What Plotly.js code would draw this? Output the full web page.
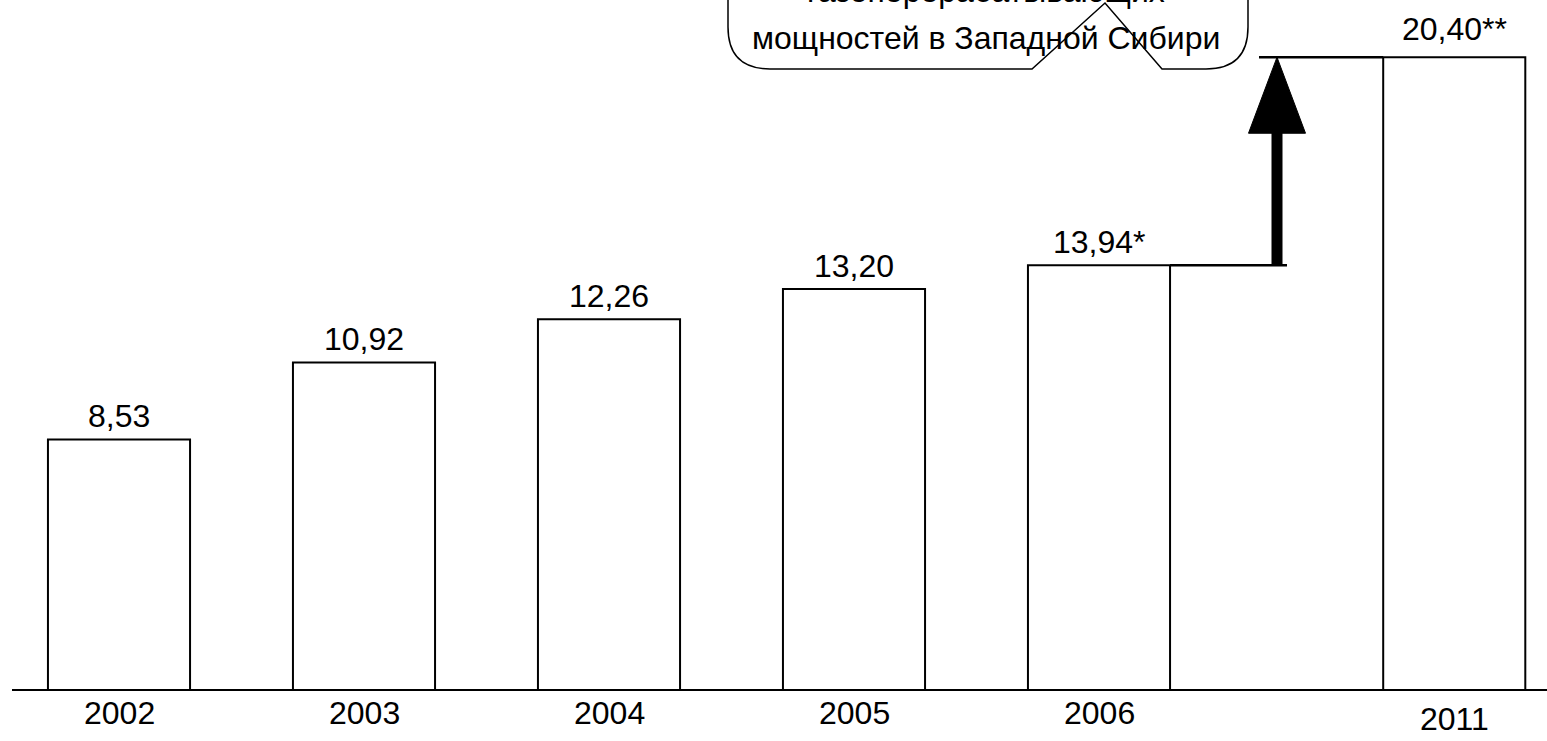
<!DOCTYPE html>
<html>
<head>
<meta charset="utf-8">
<script src="https://cdn.plot.ly/plotly-3.0.1.min.js"></script>
<style>html,body{margin:0;padding:0;background:#fff}#chart{width:1547px;height:741px}</style>
</head>
<body>
<div id="chart"></div>
<script>
// ---- data ----
const years = ['2002', '2003', '2004', '2005', '2006', '2011'];
const values = [8.53, 10.92, 12.26, 13.20, 13.94, 20.40];
const valueNotes = ['', '', '', '', '*', '**'];
const calloutLines = ['газоперерабатывающих', 'мощностей в Западной Сибири'];

// ---- layout helpers ----
const W = 1547, H = 741;
const mL = 12, mR = 0, mT = 0, mB = 52;
const plotW = W - mL - mR, plotH = H - mT - mB;
const unitPx = 245;            // px per category step
const firstCenterPx = 119;     // px of first category centre
const pxPerValue = 32.2;
const yStart = 0.78;
const gapBeforeLast = 0.45;
const barW = 0.58;
const FONT = 'Liberation Sans, Arial, sans-serif';
const FS = 32;

const xs = years.map((_, i) => i + (i === years.length - 1 ? gapBeforeLast : 0));
const xMin = (mL - firstCenterPx) / unitPx;
const xMax = (W - mR - firstCenterPx) / unitPx;
const yMax = yStart + plotH / pxPerValue;
const pxToX = px => (px - firstCenterPx) / unitPx;
const fmt = v => v.toFixed(2).replace('.', ',');

const px2paperX = px => (px - mL) / plotW;
const px2paperY = py => (mT + plotH - py) / plotH;

const trace = {
  type: 'bar',
  x: xs,
  y: values,
  width: barW,
  marker: {color: '#ffffff', line: {color: '#000000', width: 2}},
  hoverinfo: 'skip',
  cliponaxis: true
};

const annotations = xs.map((x, i) => ({
  x: x, y: values[i], xref: 'x', yref: 'y',
  text: fmt(values[i]) + valueNotes[i],
  showarrow: false, yanchor: 'bottom', yshift: i === xs.length - 1 ? 8 : 3,
  font: {family: FONT, size: FS, color: '#000'}
}));

// category labels under the axis
xs.forEach((x, i) => annotations.push({
  x: x, xref: 'x', y: 0, yref: 'paper',
  text: years[i], showarrow: false, yanchor: 'middle',
  yshift: i === xs.length - 1 ? -30 : -24,
  font: {family: FONT, size: FS, color: '#000'}
}));

// callout text
annotations.push({
  xref: 'paper', yref: 'paper', x: px2paperX(986), y: px2paperY(-9),
  text: calloutLines[0], showarrow: false, xanchor: 'center', yanchor: 'middle',
  font: {family: FONT, size: FS, color: '#000'}
});
annotations.push({
  xref: 'paper', yref: 'paper', x: px2paperX(986), y: px2paperY(38),
  text: calloutLines[1], showarrow: false, xanchor: 'center', yanchor: 'middle',
  font: {family: FONT, size: FS, color: '#000'}
});

// arrow geometry (from the 2006 value to the 2011 value)
const vFrom = values[4], vTo = values[5];
const lastIdx = xs.length - 1;
const barEdge2006 = xs[4] + barW / 2;
const barEdge2011 = xs[lastIdx] - barW / 2;
const shaftX = pxToX(1277);
const headHalf = 28.5 / unitPx;
const headLen = 76 / pxPerValue;

const P = (px, py) => px2paperX(px).toFixed(5) + ',' + px2paperY(py).toFixed(5);
const calloutPath = 'M' + P(728, -60) + ' L' + P(728, 27) + ' Q' + P(728, 69) + ' ' + P(770, 69) +
  ' L' + P(1032, 69) + ' L' + P(1105, 3) + ' L' + P(1162, 69) + ' L' + P(1206, 69) +
  ' Q' + P(1248, 69) + ' ' + P(1248, 27) + ' L' + P(1248, -60);

const shapes = [
  {type: 'line', xref: 'x', yref: 'y', x0: barEdge2006, x1: pxToX(1287), y0: vFrom, y1: vFrom,
   line: {color: '#000', width: 2.5}},
  {type: 'line', xref: 'x', yref: 'y', x0: pxToX(1259), x1: barEdge2011, y0: vTo, y1: vTo,
   line: {color: '#000', width: 2.5}},
  {type: 'line', xref: 'x', yref: 'y', x0: shaftX, x1: shaftX, y0: vFrom, y1: vTo - headLen + 0.05,
   line: {color: '#000', width: 11}},
  {type: 'path', xref: 'x', yref: 'y',
   path: 'M' + (shaftX - headHalf) + ',' + (vTo - headLen) + ' L' + (shaftX + headHalf) + ',' + (vTo - headLen) +
         ' L' + shaftX + ',' + vTo + ' Z',
   fillcolor: '#000', line: {color: '#000', width: 1}},
  {type: 'path', xref: 'paper', yref: 'paper', path: calloutPath,
   line: {color: '#000', width: 1.5}, fillcolor: 'rgba(0,0,0,0)'}
];

const layout = {
  width: W, height: H,
  margin: {l: mL, r: mR, t: mT, b: mB, pad: 0},
  paper_bgcolor: '#fff', plot_bgcolor: '#fff',
  showlegend: false,
  xaxis: {
    range: [xMin, xMax], tickvals: xs, ticktext: years, showticklabels: false,
    showline: true, linecolor: '#000', linewidth: 2,
    showgrid: false, zeroline: false, ticks: '', fixedrange: true
  },
  yaxis: {range: [yStart, yMax], visible: false, showgrid: false, zeroline: false, fixedrange: true},
  annotations: annotations,
  shapes: shapes
};

Plotly.newPlot('chart', [trace], layout, {displayModeBar: false, staticPlot: true});
</script>
</body>
</html>
